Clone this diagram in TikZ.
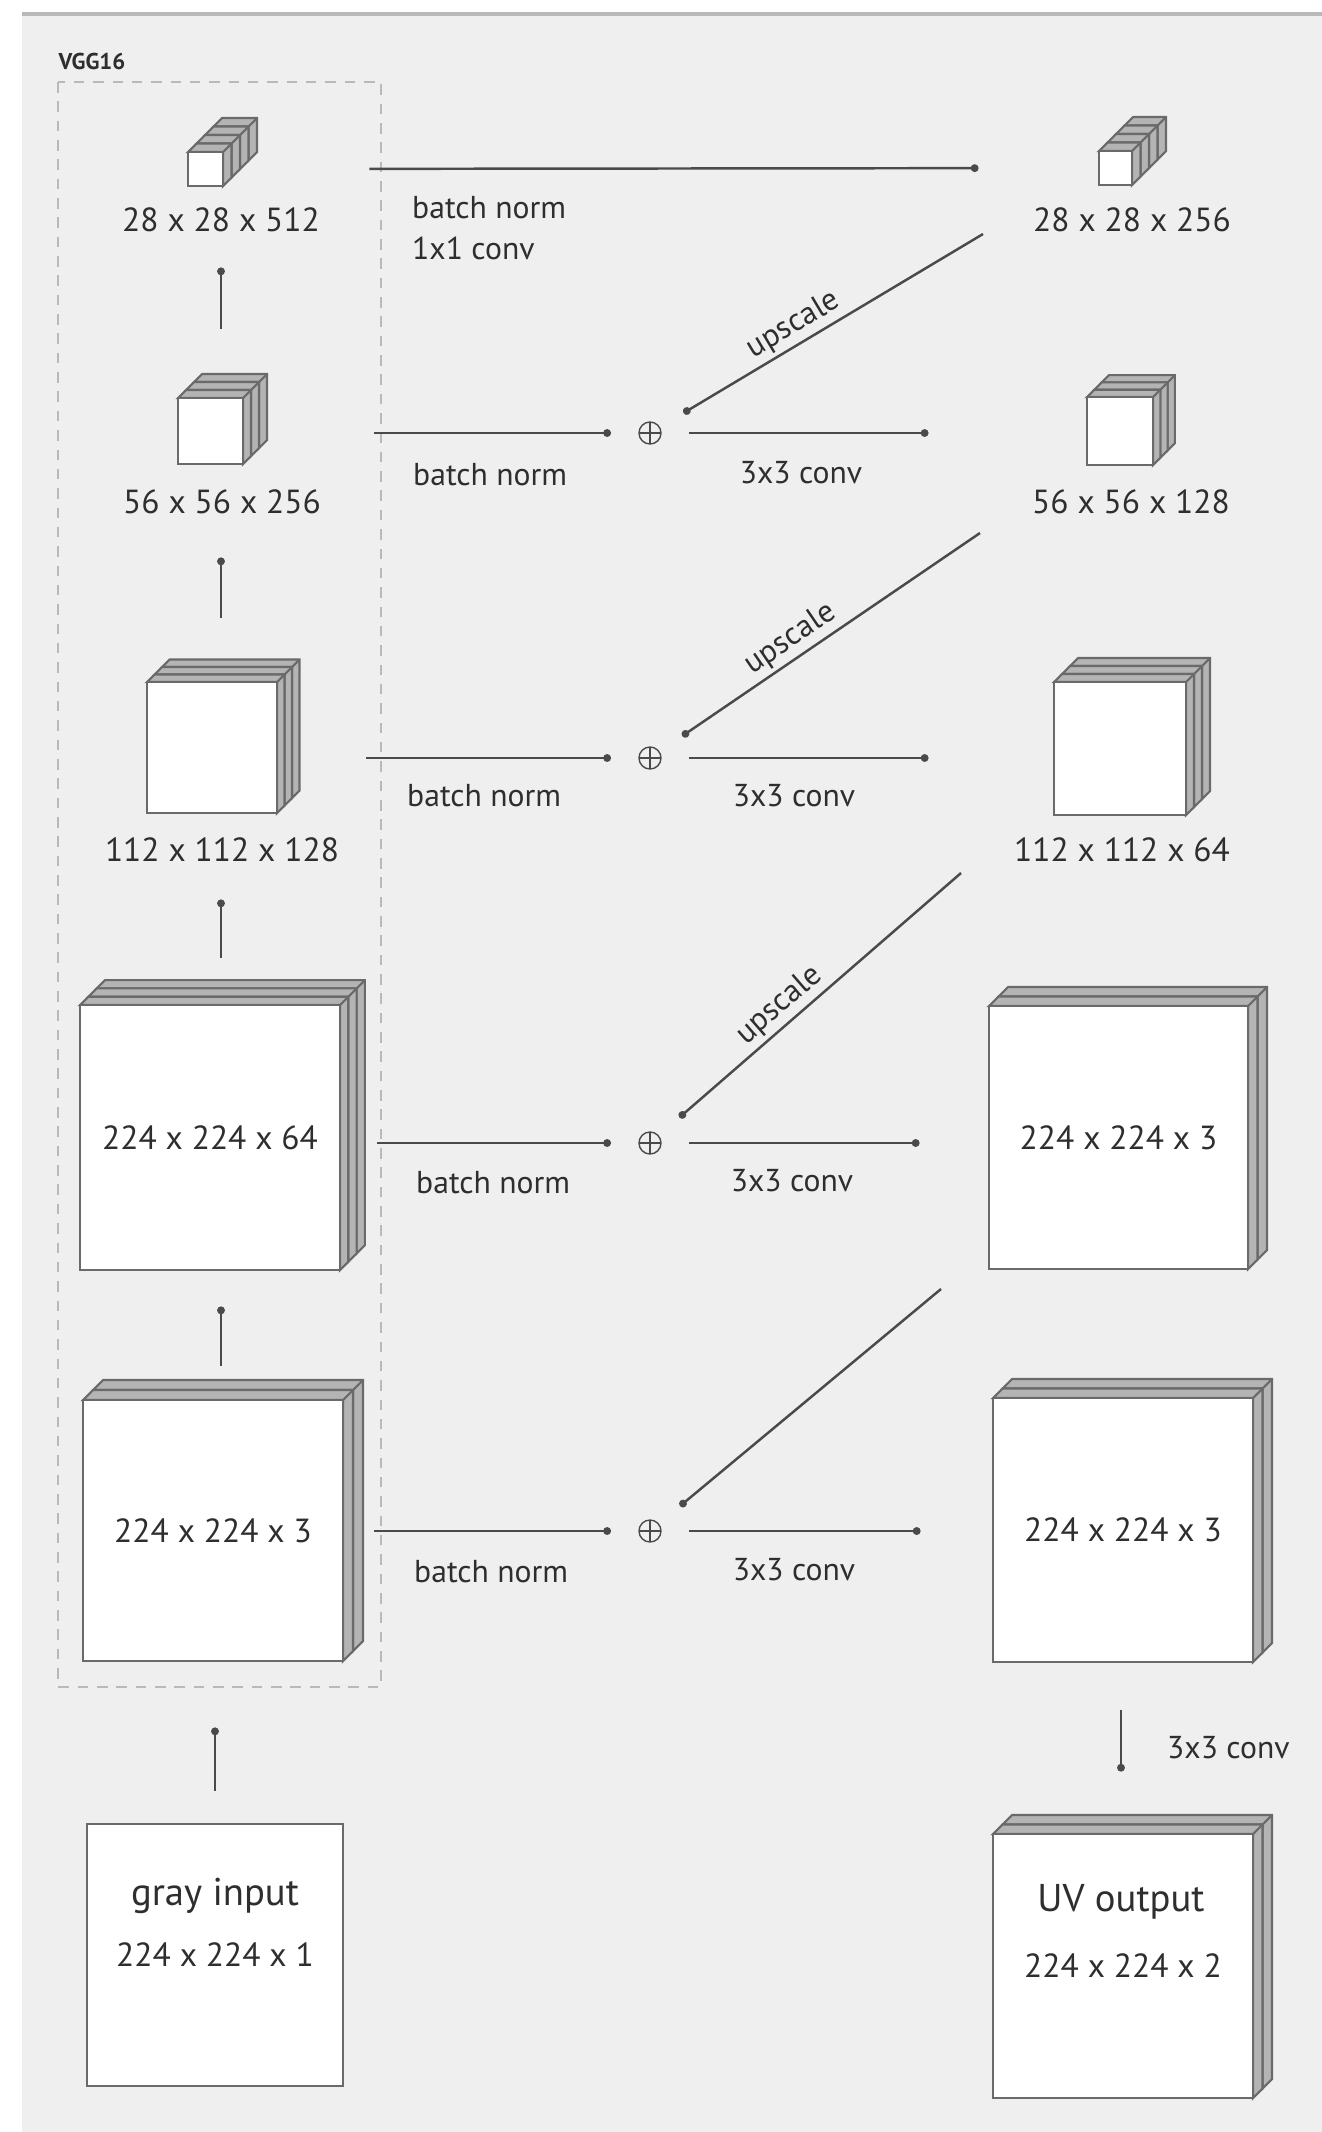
\documentclass[tikz,border=0pt]{standalone}
\usepackage{fontspec}
\setmainfont{PT Sans}
\usetikzlibrary{arrows.meta}

\definecolor{panel}{HTML}{EFEFEF}
\definecolor{ink}{HTML}{4A4A4A}
\definecolor{rim}{HTML}{6A6A6A}
\definecolor{side}{HTML}{B4B4B4}
\definecolor{txt}{HTML}{2E2E2E}

\tikzset{
  conn/.style={draw=ink, line width=0.7pt, -{Circle[length=2.2pt]}},
  face/.style={draw=rim, line width=0.8pt, fill=white, inner sep=0pt, text=txt,
    font=\fontsize{9.5}{11}\selectfont},
  slice/.style={draw=rim, line width=0.6pt, fill=side},
  dims/.style={font=\fontsize{9.5}{11}\selectfont, text=txt, inner sep=1pt},
  oplabel/.style={font=\fontsize{9}{11}\selectfont, text=txt, inner sep=1pt},
  boxtitle/.style={font=\fontsize{11}{13}\selectfont, text=txt, inner sep=1pt},
  vggbox/.style={draw=gray!55, line width=0.45pt, dash pattern=on 3pt off 2.5pt},
  addnode/.style={circle, draw=ink, line width=0.4pt, minimum size=0.22cm, inner sep=0pt,
    outer sep=0.28cm,
    path picture={\draw[ink, line width=0.35pt]
      (path picture bounding box.north) -- (path picture bounding box.south)
      (path picture bounding box.west) -- (path picture bounding box.east);}},
}

% feature map: name, left, top, width, height, slices, slice depth, text
\newcommand{\fmap}[8]{%
  \ifnum#6>0
  \foreach \k in {#6,...,1}{%
    \draw[slice] ({#2+(\k-1)*#7},{#3-(\k-1)*#7}) -- ({#2+\k*#7},{#3-\k*#7})
      -- ({#2+#4+\k*#7},{#3-\k*#7}) -- ({#2+#4+\k*#7},{#3+#5-\k*#7})
      -- ({#2+#4+(\k-1)*#7},{#3+#5-(\k-1)*#7}) -- ({#2+#4+(\k-1)*#7},{#3-(\k-1)*#7}) -- cycle;
    \draw[slice, fill=none] ({#2+#4+(\k-1)*#7},{#3-(\k-1)*#7}) -- ({#2+#4+\k*#7},{#3-\k*#7});
  }%
  \fi
  \node[face, minimum width=#4*0.01cm, minimum height=#5*0.01cm] (#1) at ({#2+#4/2},{#3+#5/2}) {#8};%
}

\begin{document}
\begin{tikzpicture}[
        x={(0.01cm,0cm)},
        y={(0cm,-0.01cm)}
    ]
    \useasboundingbox (0,0) rectangle (1322,2132);
    \fill[white] (0,0) rectangle (1322,2132);
    \fill[panel] (22,14) rectangle (1322,2132);
    \draw[gray!55, line width=0.9pt] (22,14) -- (1322,14);

    % encoder (VGG16)
    \draw[vggbox] (58,82) rectangle (381,1687);
    \node[anchor=west, inner sep=0pt, text=txt, font=\fontsize{6.5}{8}\selectfont\bfseries] (vgglabel) at (58,61) {VGG16};

    \fmap{l512}{188}{152}{35}{34}{4}{8.5}{}
    \fmap{l256}{178}{398}{65}{66}{3}{8}{}
    \fmap{l128}{147}{682}{130}{131}{3}{7.5}{}
    \fmap{l64}{80}{1005}{260}{265}{3}{8.3}{224 x 224 x 64}
    \fmap{l3}{83}{1400}{260}{261}{2}{10}{224 x 224 x 3}
    \fmap{input}{87}{1824}{256}{262}{0}{0}{224 x 224 x 1}
    \node[boxtitle] (inputtitle) at (215,1896) {gray input};

    \node[dims] (lab512) at (221,220) {28 x 28 x 512};
    \node[dims] (lab256) at (222,502) {56 x 56 x 256};
    \node[dims] (lab128) at (222,850) {112 x 112 x 128};

    % decoder
    \fmap{r256}{1099}{151}{33}{34}{4}{8.5}{}
    \fmap{r128}{1087}{397}{66}{68}{3}{7.3}{}
    \fmap{r64}{1054}{682}{132}{133}{3}{8}{}
    \fmap{r3a}{989}{1006}{259}{263}{2}{9.5}{224 x 224 x 3}
    \fmap{r3b}{993}{1398}{260}{264}{2}{9.5}{224 x 224 x 3}
    \fmap{out}{993}{1834}{260}{264}{2}{9.5}{224 x 224 x 2}
    \node[boxtitle] (outtitle) at (1121,1902) {UV output};

    \node[dims] (rlab256) at (1132,220) {28 x 28 x 256};
    \node[dims] (rlab128) at (1131,502) {56 x 56 x 128};
    \node[dims] (rlab64) at (1122,850) {112 x 112 x 64};

    \node[addnode] (add2) at (650,433) {};
    \node[addnode] (add3) at (650,758) {};
    \node[addnode] (add4) at (650,1143) {};
    \node[addnode] (add5) at (650,1531) {};

    \coordinate (up2) at (983,234);
    \coordinate (up3) at (980,533);
    \coordinate (up4) at (961,873);
    \coordinate (up5) at (941,1289);

    % encoder arrows
    \draw[conn, shorten <=0.68cm, shorten >=0.80cm] (lab512 |- l256.north) -- (lab512 |- l512.south);
    \draw[conn, shorten <=0.63cm, shorten >=0.92cm] (lab512 |- l128.north) -- (lab512 |- l256.south);
    \draw[conn, shorten <=0.46cm, shorten >=0.85cm] (lab512 |- l64.north) -- (lab512 |- l128.south);
    \draw[conn, shorten <=0.33cm, shorten >=0.35cm] (lab512 |- l3.north) -- (lab512 |- l64.south);
    \draw[conn, shorten <=0.32cm, shorten >=0.65cm] (inputtitle |- input.north) -- (inputtitle |- l3.south);

    % skip connections
    \draw[conn, shorten <=1.45cm, shorten >=1.19cm] (l512.east) -- (r256.west);
    \node[oplabel, anchor=west] (bn1) at (408,208) {batch norm};
    \node[oplabel, anchor=west] (cv1) at (408,248) {1x1 conv};

    \draw[conn, shorten <=1.30cm] (add2 -| l256.east) -- (add2);
    \draw[conn, shorten >=1.57cm] (add2) -- (add2 -| r128.west);
    \draw[conn] (up2) -- node[oplabel, sloped, above, pos=0.6] (us2) {upscale} (add2);
    \node[oplabel, anchor=west] (bn2) at (409,475) {batch norm};
    \node[oplabel] (cv2) at (801,473) {3x3 conv};

    \draw[conn, shorten <=0.88cm] (add3 -| l128.east) -- (add3);
    \draw[conn, shorten >=1.24cm] (add3) -- (add3 -| r64.west);
    \draw[conn] (up3) -- node[oplabel, sloped, above, pos=0.6] (us3) {upscale} (add3);
    \node[oplabel, anchor=west] (bn3) at (403,796) {batch norm};
    \node[oplabel] (cv3) at (794,796) {3x3 conv};

    \draw[conn, shorten <=0.36cm] (add4 -| l64.east) -- (add4);
    \draw[conn, shorten >=0.68cm] (add4) -- (add4 -| r3a.west);
    \draw[conn] (up4) -- node[oplabel, sloped, above, pos=0.6] (us4) {upscale} (add4);
    \node[oplabel, anchor=west] (bn4) at (412,1183) {batch norm};
    \node[oplabel] (cv4) at (792,1181) {3x3 conv};

    \draw[conn, shorten <=0.30cm] (add5 -| l3.east) -- (add5);
    \draw[conn, shorten >=0.71cm] (add5) -- (add5 -| r3b.west);
    \draw[conn] (up5) -- (add5);
    \node[oplabel, anchor=west] (bn5) at (410,1572) {batch norm};
    \node[oplabel] (cv5) at (794,1570) {3x3 conv};

    % output
    \draw[conn, shorten <=0.47cm, shorten >=0.61cm] (outtitle |- r3b.south) -- (outtitle |- out.north);
    \node[oplabel, anchor=west] (cv6) at (1163,1748) {3x3 conv};
\end{tikzpicture}
\end{document}
